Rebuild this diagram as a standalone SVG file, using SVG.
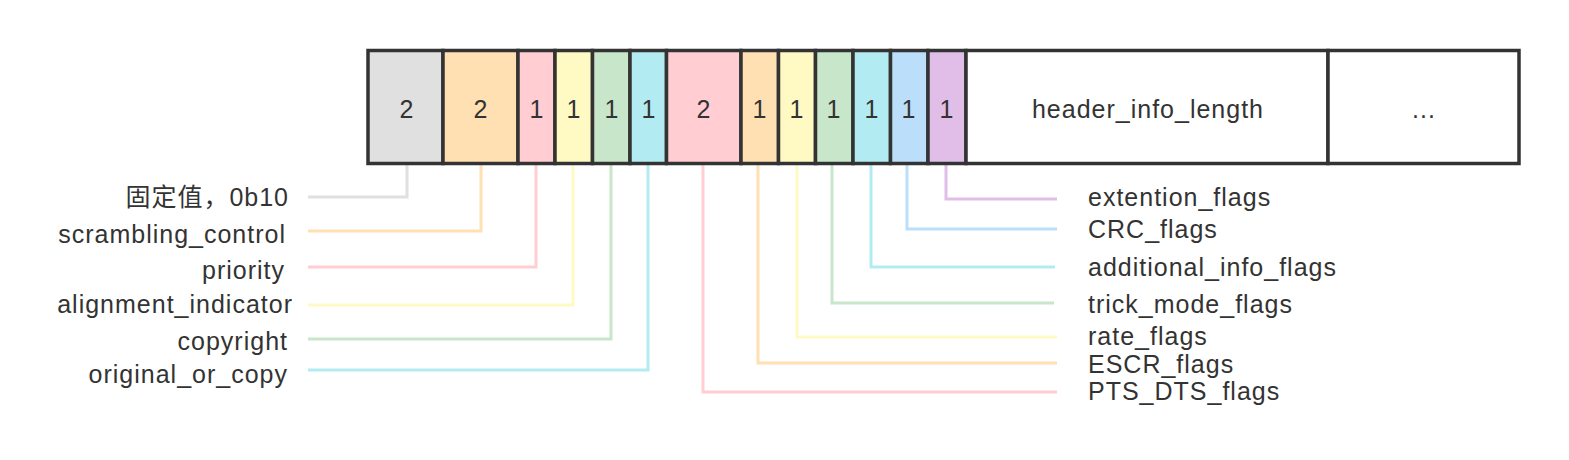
<svg xmlns="http://www.w3.org/2000/svg" width="1569" height="460" viewBox="0 0 1569 460">
<style>
.cell{stroke:#333;stroke-width:3.5}
.t{font-family:"Liberation Sans",Arial,"Noto Sans CJK SC",sans-serif;font-size:25px;fill:#333;letter-spacing:1px}
.c{text-anchor:middle}
.e{text-anchor:end}
.ln{fill:none;stroke-width:3}
.gray{fill:#e0e0e0;stroke:#e0e0e0}
.orange{fill:#ffe0b2;stroke:#ffe0b2}
.pink{fill:#ffcdd2;stroke:#ffcdd2}
.yellow{fill:#fff9c4;stroke:#fff9c4}
.green{fill:#c8e6c9;stroke:#c8e6c9}
.cyan{fill:#b2ebf2;stroke:#b2ebf2}
.blue{fill:#bbdefb;stroke:#bbdefb}
.purple{fill:#e1bee7;stroke:#e1bee7}
.white{fill:#ffffff}
</style>
<rect width="1569" height="460" fill="#ffffff"/>
<g id="connectors">
<polyline class="ln gray" style="fill:none" points="407,165 407,197 308,197"/>
<polyline class="ln orange" style="fill:none" points="481,165 481,231 308,231"/>
<polyline class="ln pink" style="fill:none" points="536,165 536,267 308,267"/>
<polyline class="ln yellow" style="fill:none" points="573,165 573,305 308,305"/>
<polyline class="ln green" style="fill:none" points="611,165 611,339 308,339"/>
<polyline class="ln cyan" style="fill:none" points="648,165 648,370 308,370"/>
<polyline class="ln pink" style="fill:none" points="703,165 703,392 1057,392"/>
<polyline class="ln orange" style="fill:none" points="758,165 758,363 1057,363"/>
<polyline class="ln yellow" style="fill:none" points="797,165 797,337 1057,337"/>
<polyline class="ln green" style="fill:none" points="832,165 832,303 1054,303"/>
<polyline class="ln cyan" style="fill:none" points="871,165 871,267 1055,267"/>
<polyline class="ln blue" style="fill:none" points="907,165 907,229 1057,229"/>
<polyline class="ln purple" style="fill:none" points="946,165 946,199 1057,199"/>
</g>
<g id="cell-1"><rect class="cell gray" style="stroke:#333" x="368" y="50.5" width="75" height="113"/><text class="t c" x="407" y="118">2</text></g>
<g id="cell-2"><rect class="cell orange" style="stroke:#333" x="443" y="50.5" width="75" height="113"/><text class="t c" x="481" y="118">2</text></g>
<g id="cell-3"><rect class="cell pink" style="stroke:#333" x="518" y="50.5" width="37" height="113"/><text class="t c" x="537" y="118">1</text></g>
<g id="cell-4"><rect class="cell yellow" style="stroke:#333" x="555" y="50.5" width="37.5" height="113"/><text class="t c" x="574" y="118">1</text></g>
<g id="cell-5"><rect class="cell green" style="stroke:#333" x="592.5" y="50.5" width="37.5" height="113"/><text class="t c" x="612" y="118">1</text></g>
<g id="cell-6"><rect class="cell cyan" style="stroke:#333" x="630" y="50.5" width="36.5" height="113"/><text class="t c" x="649" y="118">1</text></g>
<g id="cell-7"><rect class="cell pink" style="stroke:#333" x="666.5" y="50.5" width="74.5" height="113"/><text class="t c" x="704" y="118">2</text></g>
<g id="cell-8"><rect class="cell orange" style="stroke:#333" x="741" y="50.5" width="37.5" height="113"/><text class="t c" x="760" y="118">1</text></g>
<g id="cell-9"><rect class="cell yellow" style="stroke:#333" x="778.5" y="50.5" width="37" height="113"/><text class="t c" x="797" y="118">1</text></g>
<g id="cell-10"><rect class="cell green" style="stroke:#333" x="815.5" y="50.5" width="37.5" height="113"/><text class="t c" x="834" y="118">1</text></g>
<g id="cell-11"><rect class="cell cyan" style="stroke:#333" x="853" y="50.5" width="37.5" height="113"/><text class="t c" x="872" y="118">1</text></g>
<g id="cell-12"><rect class="cell blue" style="stroke:#333" x="890.5" y="50.5" width="37.5" height="113"/><text class="t c" x="909" y="118">1</text></g>
<g id="cell-13"><rect class="cell purple" style="stroke:#333" x="928" y="50.5" width="38" height="113"/><text class="t c" x="947" y="118">1</text></g>
<g id="cell-header"><rect class="cell white" x="966" y="50.5" width="362" height="113"/><text class="t c" x="1148" y="118">header_info_length</text></g>
<g id="cell-more"><rect class="cell white" x="1328" y="50.5" width="191" height="113"/><text class="t c" x="1424" y="118">...</text></g>
<g id="labels-left">
<text class="t e" x="289" y="206">固定值，0b10</text>
<text class="t e" x="286" y="243">scrambling_control</text>
<text class="t e" x="285" y="279">priority</text>
<text class="t e" x="293" y="313">alignment_indicator</text>
<text class="t e" x="288" y="350">copyright</text>
<text class="t e" x="288" y="383">original_or_copy</text>
</g>
<g id="labels-right">
<text class="t" x="1088" y="206">extention_flags</text>
<text class="t" x="1088" y="238">CRC_flags</text>
<text class="t" x="1088" y="276">additional_info_flags</text>
<text class="t" x="1088" y="313">trick_mode_flags</text>
<text class="t" x="1088" y="345">rate_flags</text>
<text class="t" x="1088" y="373">ESCR_flags</text>
<text class="t" x="1088" y="400">PTS_DTS_flags</text>
</g>
</svg>
